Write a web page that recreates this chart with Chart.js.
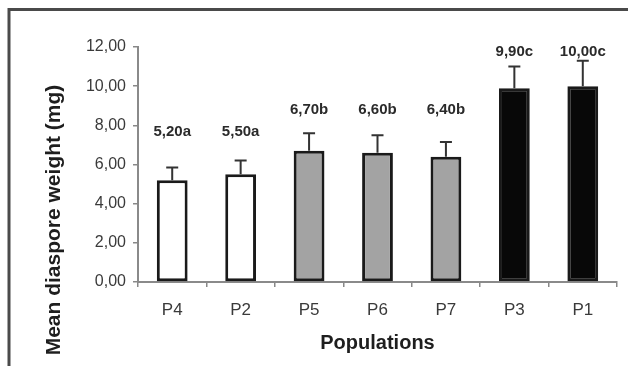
<!DOCTYPE html>
<html>
<head>
<meta charset="utf-8">
<script src="https://cdn.jsdelivr.net/npm/chart.js@4/dist/chart.umd.min.js"></script>
<style>
  html, body { margin: 0; padding: 0; background: #fff; }
  #wrap { width: 628px; height: 366px; position: relative; }
</style>
</head>
<body>
<div id="wrap"><canvas id="chart" width="628" height="366"></canvas></div>
<script>
/* ── Data ───────────────────────────────────────────── */
const populations = ['P4', 'P2', 'P5', 'P6', 'P7', 'P3', 'P1'];
const meanWeight  = [5.2, 5.5, 6.7, 6.6, 6.4, 9.9, 10.0];
const errUpper    = [0.65, 0.7, 0.9, 0.9, 0.75, 1.1, 1.3];
const groupLetter = ['a', 'a', 'b', 'b', 'b', 'c', 'c'];
const labelLevel  = [7.65, 7.65, 8.8, 8.8, 8.8, 11.75, 11.75];
const yTicks      = [0, 2, 4, 6, 8, 10, 12];

const groupFill = { a: '#ffffff', b: '#a3a3a3', c: '#080808' };
const fmt = v => v.toFixed(2).replace('.', ',');

/* ── Plugins ────────────────────────────────────────── */
const frame = {
    id: 'frame',
    beforeDraw(chart) {
        const ctx = chart.ctx;
        ctx.save();
        ctx.fillStyle = '#fff';
        ctx.fillRect(0, 0, chart.width, chart.height);
        ctx.strokeStyle = '#4a4a4a';
        ctx.lineWidth = 3;
        ctx.beginPath();
        ctx.moveTo(9, chart.height);
        ctx.lineTo(9, 9.5);
        ctx.lineTo(chart.width, 9.5);
        ctx.stroke();
        ctx.restore();
    }
};

const errorBars = {
    id: 'errorBars',
    afterDatasetsDraw(chart) {
        const ctx = chart.ctx;
        const y = chart.scales.y;
        const meta = chart.getDatasetMeta(0);
        ctx.save();
        ctx.strokeStyle = '#333';
        ctx.lineWidth = 2;
        meta.data.forEach((bar, i) => {
            const top = y.getPixelForValue(meanWeight[i] + errUpper[i]);
            const base = y.getPixelForValue(meanWeight[i]);
            ctx.beginPath();
            ctx.moveTo(bar.x, base);
            ctx.lineTo(bar.x, top);
            ctx.moveTo(bar.x - 6, top);
            ctx.lineTo(bar.x + 6, top);
            ctx.stroke();
        });
        // value + group letter labels
        ctx.fillStyle = '#2a2a2a';
        ctx.font = 'bold 15px "Liberation Sans", Arial, sans-serif';
        ctx.textAlign = 'center';
        ctx.textBaseline = 'middle';
        meta.data.forEach((bar, i) => {
            ctx.fillText(fmt(meanWeight[i]) + groupLetter[i], bar.x, y.getPixelForValue(labelLevel[i]));
        });
        // y axis title
        ctx.translate(54, 220);
        ctx.rotate(-Math.PI / 2);
        ctx.font = 'bold 21px "Liberation Sans", Arial, sans-serif';
        ctx.fillStyle = '#1e1e1e';
        ctx.fillText('Mean diaspore weight (mg)', 0, 0);
        ctx.restore();
    }
};

/* ── Chart ──────────────────────────────────────────── */
new Chart(document.getElementById('chart'), {
    type: 'bar',
    data: {
        labels: populations,
        datasets: [{
            data: meanWeight,
            backgroundColor: groupLetter.map(g => groupFill[g]),
            borderColor: '#1a1a1a',
            borderWidth: 3,
            borderSkipped: false,
            categoryPercentage: 1,
            barPercentage: 0.45,
        }],
    },
    options: {
        responsive: false,
        animation: false,
        events: [],
        layout: { padding: { top: 47, right: 11, bottom: 0, left: 0 } },
        plugins: { legend: { display: false }, tooltip: { enabled: false } },
        scales: {
            x: {
                afterFit(s) { s.height = 84; },
                grid: { offset: true, drawOnChartArea: false, tickLength: 5, color: '#888', lineWidth: 1.5 },
                border: { color: '#8a8a8a', width: 2 },
                ticks: { color: '#3a3a3a', padding: 13, font: { family: '"Liberation Sans", Arial, sans-serif', size: 17 } },
                title: {
                    display: true, text: 'Populations', color: '#1e1e1e',
                    padding: { top: 0, bottom: 11 },
                    font: { family: '"Liberation Sans", Arial, sans-serif', size: 20, weight: 'bold' },
                },
            },
            y: {
                min: 0, max: 12,
                afterFit(s) { s.width = 138; },
                afterBuildTicks(s) { s.ticks = yTicks.map(v => ({ value: v })); },
                grid: { drawOnChartArea: false, tickLength: 5, color: '#888', lineWidth: 1.5 },
                border: { color: '#8a8a8a', width: 2 },
                ticks: {
                    color: '#3a3a3a', padding: 7,
                    font: { family: '"Liberation Sans", Arial, sans-serif', size: 16 },
                    callback: v => fmt(v),
                },
            },
        },
    },
    plugins: [frame, errorBars],
});
</script>
</body>
</html>
